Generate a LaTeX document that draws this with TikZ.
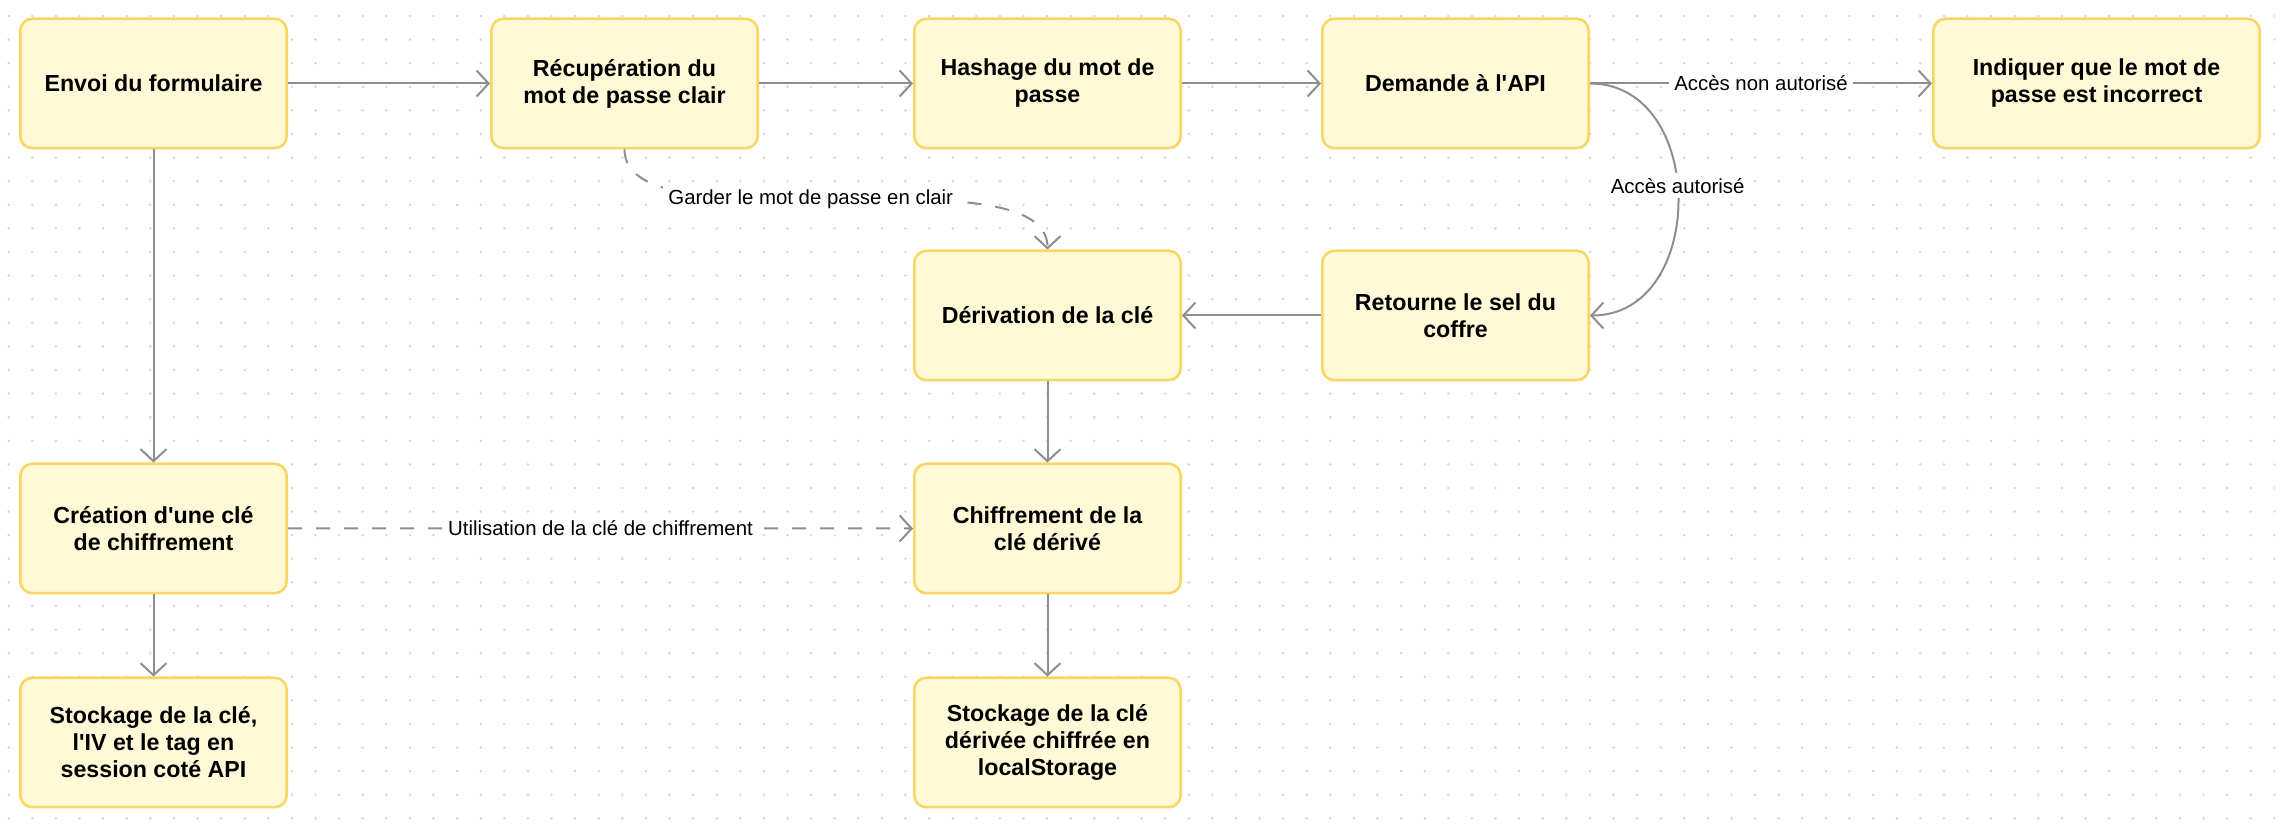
\documentclass[tikz,border=0pt]{standalone}
\usepackage{fontspec}
\setmainfont{Liberation Sans}[Ligatures=TeXOff]
\usetikzlibrary{positioning,arrows.meta}
\definecolor{boxfill}{HTML}{FFF9D8}
\definecolor{boxline}{HTML}{F8D663}
\definecolor{linkgray}{HTML}{8E8E8E}
\definecolor{dotgray}{HTML}{D6D6D6}

\begin{document}
\begin{tikzpicture}[x=1pt, y=-1pt, node distance={50pt}, thick,
    main/.style = {draw=boxline, fill=boxfill, line width=1.3pt, rounded corners=6pt, minimum width=133.2pt, minimum height=64.7pt, align=center, font=\fontsize{11.6}{13.5}\selectfont\bfseries},
    link/.style = {draw=linkgray, line width=1pt, -{Straight Barb[length=6pt,width=13pt]}},
    dashlink/.style = {link, dash pattern=on 7pt off 7pt},
    lbl/.style = {fill=white, inner sep=2.5pt, font=\fontsize{10.2}{12}\selectfont}]
    \useasboundingbox (0,0) rectangle (1138,419);
    % dot grid
    \foreach \i in {0,...,96}
        \foreach \j in {0,...,34}
            \fill[dotgray] (4.35+11.8*\i, 8+11.8*\j) circle (0.7pt);

    \node[main] (1) at (76.75,41.75) {Envoi du formulaire};
    \node[main] (2) [right=101pt of 1]  {Récupération du\\mot de passe clair};
    \node[main] (3) [right=77pt of 2]   {Hashage du mot de\\passe};
    \node[main] (4) [right=69.5pt of 3] {Demande à l'API};
    \node[main, minimum width=163.2pt] (5) [right=171pt of 4] {Indiquer que le mot de\\passe est incorrect};
    \node[main] (6) [below=of 3]        {Dérivation de la clé};
    \node[main] (7) [below=of 4]        {Retourne le sel du\\coffre};
    \node[main] (8) [below=156.5pt of 1] {Création d'une clé\\de chiffrement};
    \node[main] (9) [below=40.5pt of 6] {Chiffrement de la\\clé dérivé};
    \node[main] (10) [below=41pt of 8]  {Stockage de la clé,\\l'IV et le tag en\\session coté API};
    \node[main] (11) [below=41pt of 9]  {Stockage de la clé\\dérivée chiffrée en\\localStorage};

    \draw[link] (1) -- (2);
    \draw[link] (2) -- (3);
    \draw[link] (3) -- (4);
    \draw[link] (4) -- node[lbl] {Accès non autorisé} (5);
    \draw[link] (4.east) to[out=0, in=0, looseness=1.3] node[lbl, pos=0.46] {Accès autorisé} (7.east);
    \draw[link] (7) -- (6);
    \draw[link] (6) -- (9);
    \draw[link] (9) -- (11);
    \draw[link] (1) -- (8);
    \draw[link] (8) -- (10);
    \draw[dashlink] (8) -- node[lbl] {Utilisation de la clé de chiffrement} (9);
    \draw[dashlink] (2.south) to[out=-90, in=90, looseness=0.6] node[lbl, pos=0.46] {Garder le mot de passe en clair} (6.north);
\end{tikzpicture}
\end{document}
